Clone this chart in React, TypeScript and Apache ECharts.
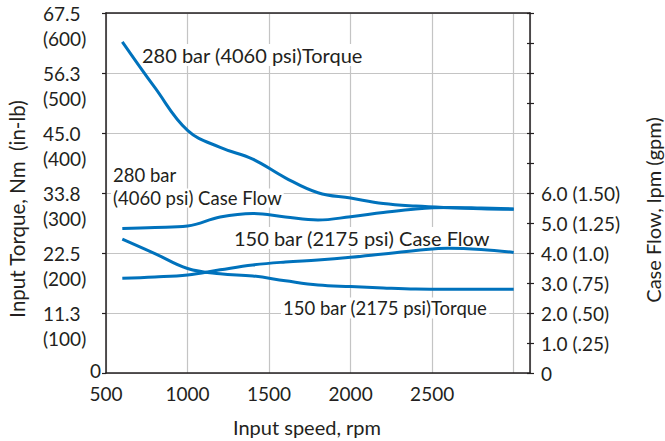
import React, { useEffect, useRef } from "react";
import * as echarts from "echarts";

const rpm = [600, 800, 1000, 1200, 1400, 1600, 1800, 2000, 2200, 2400, 2600, 2800, 3000];
const torque280 = [62.1, 53.5, 45.5, 42.3, 40.1, 36.6, 33.8, 32.8, 31.8, 31.3, 31.0, 30.8, 30.7];
const torque150 = [25.1, 22.4, 19.6, 18.6, 18.2, 17.3, 16.5, 16.2, 15.95, 15.75, 15.7, 15.7, 15.7];
const flow280 = [4.82, 4.85, 4.9, 5.2, 5.32, 5.2, 5.1, 5.21, 5.35, 5.47, 5.52, 5.5, 5.47];
const flow150 = [3.16, 3.2, 3.27, 3.44, 3.6, 3.7, 3.77, 3.86, 3.97, 4.08, 4.16, 4.12, 4.02];

const torqueTickNm = ["0", "11.3", "22.5", "33.8", "45.0", "56.3", "67.5"];
const torqueTickInLb = ["", "(100)", "(200)", "(300)", "(400)", "(500)", "(600)"];
const flowTickLabels = ["0", "1.0 (.25)", "2.0 (.50)", "3.0 (.75)", "4.0 (1.0)", "5.0 (1.25)", "6.0 (1.50)"];

const FONT = "Lato";
const BLUE = "#0072bc";
const INK = "#231f20";
const GRID = "#c4c4c4";

export default function App() {
  const ref = useRef<HTMLDivElement>(null);
  useEffect(() => {
    if (!ref.current) return;
    const chart = echarts.init(ref.current, undefined, { renderer: "svg" });
    const mk = (arr: number[]) => rpm.map((r, i) => [r, arr[i]]);
    const lineSeries = (name: string, arr: number[], yIdx: number) => ({
      name,
      type: "line",
      xAxisIndex: 0,
      yAxisIndex: yIdx,
      data: mk(arr),
      smooth: 0.4,
      showSymbol: false,
      symbol: "none",
      z: 3,
      lineStyle: { color: BLUE, width: 3 },
    });
    const txt = (text: string, x: number, y: number, size: number, extra: any = {}) => ({
      type: "text",
      x,
      y,
      z: 1,
      style: {
        text,
        fontFamily: FONT,
        fontSize: size,
        fill: INK,
        align: "left",
        verticalAlign: "middle",
        ...extra,
      },
    });
    const rot = (text: string, x: number, y: number, size: number) => ({
      type: "text",
      x,
      y,
      rotation: Math.PI / 2,
      z: 1,
      style: {
        text,
        fontFamily: FONT,
        fontSize: size,
        fill: INK,
        align: "center",
        verticalAlign: "middle",
      },
    });
    const bg = { backgroundColor: "#fff", padding: [1, 2, 1, 2] };
    const bgTight = { backgroundColor: "#fff", padding: [0, 2, 0, 2], lineHeight: 19 };
    chart.setOption({
      animation: false,
      textStyle: { fontFamily: FONT },
      grid: { left: 106, top: 13, right: 135, bottom: 68 },
      xAxis: [
        {
          type: "value",
          min: 500,
          max: 3100,
          interval: 500,
          axisLine: { show: true, lineStyle: { color: INK, width: 1.5 } },
          axisTick: { show: false },
          splitLine: { show: true, lineStyle: { color: GRID, width: 1.2 } },
          axisLabel: {
            margin: 11,
            fontSize: 19,
            fontFamily: FONT,
            color: INK,
            formatter: (v: number) => (v >= 3000 ? "" : String(v)),
          },
        },
        {
          type: "value",
          position: "top",
          min: 500,
          max: 3100,
          axisLine: { show: true, onZero: false, lineStyle: { color: INK, width: 1.5 } },
          axisTick: { show: false },
          axisLabel: { show: false },
          splitLine: { show: false },
        },
      ],
      yAxis: [
        {
          type: "value",
          min: 0,
          max: 67.5,
          interval: 11.25,
          axisLine: { show: true, lineStyle: { color: INK, width: 1.5 } },
          axisTick: { show: true, length: 4, lineStyle: { color: INK, width: 1.2 } },
          splitLine: { show: true, lineStyle: { color: GRID, width: 1.2 } },
          axisLabel: {
            margin: 63,
            align: "left",
            padding: [25, 0, 0, 0],
            color: INK,
            fontFamily: FONT,
            fontSize: 19,
            formatter: (v: number) => {
              const i = Math.round(v / 11.25);
              if (i === 0) return "{z|0}\n{e| }";
              return `{a|${torqueTickNm[i]}}\n{b|${torqueTickInLb[i]}}`;
            },
            rich: {
              a: { fontSize: 19, fontFamily: FONT, color: INK, lineHeight: 25 },
              b: { fontSize: 19, fontFamily: FONT, color: INK, lineHeight: 25 },
              z: { fontSize: 19, fontFamily: FONT, color: INK, lineHeight: 14, padding: [0, 0, 0, 47] },
              e: { fontSize: 19, fontFamily: FONT, color: INK, lineHeight: 31 },
            },
          },
        },
        {
          type: "value",
          position: "right",
          min: 0,
          max: 12,
          interval: 1,
          axisLine: { show: true, lineStyle: { color: INK, width: 1.5 } },
          axisTick: { show: true, length: 4, lineStyle: { color: INK, width: 1.2 } },
          splitLine: { show: false },
          axisLabel: {
            margin: 11,
            color: INK,
            fontFamily: FONT,
            fontSize: 19,
            formatter: (v: number) => {
              const i = Math.round(v);
              return i <= 6 ? flowTickLabels[i] : "";
            },
          },
        },
        {
          type: "value",
          position: "right",
          min: 0,
          max: 12,
          interval: 1,
          axisLine: { show: false },
          axisTick: { show: true, inside: true, length: 3, lineStyle: { color: INK, width: 1.2 } },
          splitLine: { show: false },
          axisLabel: { show: false },
        },
      ],
      series: [
        lineSeries("280 bar Torque", torque280, 0),
        lineSeries("150 bar Torque", torque150, 0),
        lineSeries("280 bar Case Flow", flow280, 1),
        lineSeries("150 bar Case Flow", flow150, 1),
      ],
      graphic: [
        txt("280 bar (4060 psi)Torque", 140, 55, 20, bg),
        txt("280 bar", 111, 175, 18.5, bgTight),
        txt("(4060 psi) Case Flow", 111, 198, 18.5, bgTight),
        txt("150 bar (2175 psi) Case Flow", 232, 238, 20, bg),
        txt("150 bar (2175 psi)Torque", 281, 308, 18.5, bg),
        txt("Input speed, rpm", 307, 427, 20, { align: "center" }),
        rot("Input Torque, Nm  (in-lb)", 17, 209, 20.5),
        rot("Case Flow, lpm (gpm)", 653, 210, 20),
      ],
    });
    return () => chart.dispose();
  }, []);
  return (
    <div
      ref={ref}
      style={{ position: "fixed", left: 0, top: 0, width: 665, height: 441, background: "#fff" }}
    />
  );
}
